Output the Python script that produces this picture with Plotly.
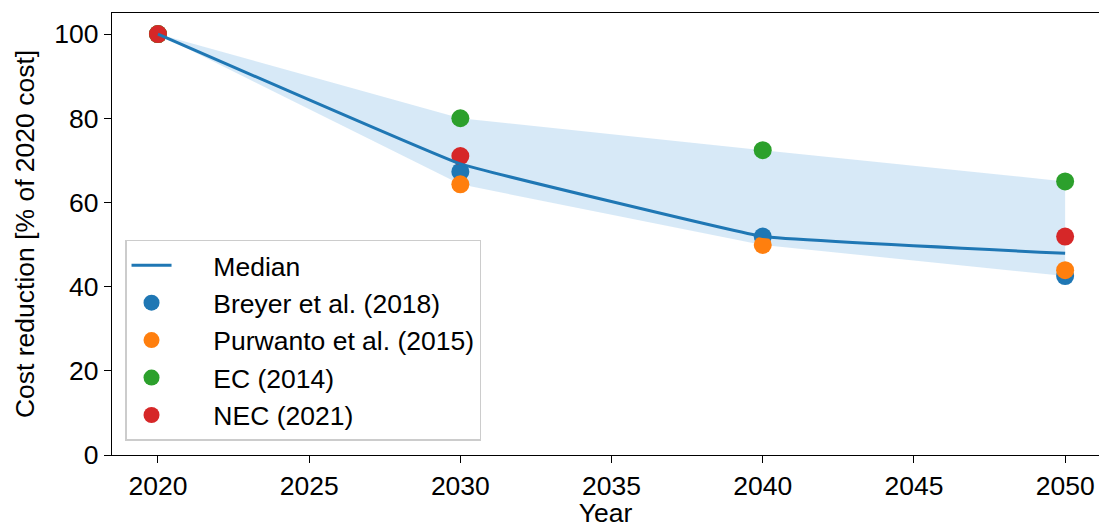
import plotly.graph_objects as go

years = [2020, 2030, 2040, 2050]
breyer = [100, 67.3, 51.9, 42.5]
purwanto = [100, 64.3, 49.9, 43.9]
ec = [100, 80.0, 72.4, 65.0]
nec = [100, 71.0, None, 51.9]
median = [100, 69.15, 51.9, 47.9]
band_low = [100, 64.3, 49.9, 42.5]
band_high = [100, 80.0, 72.4, 65.0]

series = [
    ("Breyer et al. (2018)", breyer, "#1f77b4"),
    ("Purwanto et al. (2015)", purwanto, "#ff7f0e"),
    ("EC (2014)", ec, "#2ca02c"),
    ("NEC (2021)", nec, "#d62728"),
]

FONT = "Liberation Sans, Arial, sans-serif"
FS = 26.5
PAD = "\u00a0" * 5

fig = go.Figure()
# band
fig.add_trace(go.Scatter(x=years, y=band_low, mode="lines", line=dict(width=0),
                         showlegend=False, hoverinfo="skip"))
fig.add_trace(go.Scatter(x=years, y=band_high, mode="lines", line=dict(width=0),
                         fill="tonexty", fillcolor="rgba(100,170,225,0.26)",
                         showlegend=False, hoverinfo="skip"))
for i, (name, vals, col) in enumerate(series):
    fig.add_trace(go.Scatter(x=years, y=vals, mode="markers", name=PAD + name,
                             marker=dict(color=col, size=18, line=dict(width=0)),
                             legendrank=2 + i, legendgroup=name))
fig.add_trace(go.Scatter(x=years, y=median, mode="lines", name=PAD + "Median",
                         line=dict(color="#1f77b4", width=3, shape="spline", smoothing=0.2),
                         legendrank=1, legendgroup="Median"))

fig.update_layout(
    width=1099, height=528,
    margin=dict(l=112, r=0, t=13, b=73),
    paper_bgcolor="white", plot_bgcolor="white",
    font=dict(family=FONT, size=FS, color="black"),
    legend=dict(x=0.0132, y=0.0317, xanchor="left", yanchor="bottom",
                bgcolor="rgba(255,255,255,0.8)", bordercolor="#cccccc", borderwidth=1.5,
                font=dict(size=FS, color="black"), tracegroupgap=0, itemwidth=40),
)
fig.update_xaxes(range=[2018.48, 2051.12], tickvals=[2020, 2025, 2030, 2035, 2040, 2045, 2050],
                 tickfont=dict(size=FS),
                 showgrid=False, zeroline=False, showline=True, linecolor="black", linewidth=1.3,
                 mirror=True, ticks="outside", ticklen=7, tickwidth=1.3, tickcolor="black",
                 title=dict(text="Year", standoff=5, font=dict(size=FS)))
fig.update_yaxes(range=[0, 105], tickvals=[0, 20, 40, 60, 80, 100],
                 tickfont=dict(size=FS),
                 showgrid=False, zeroline=False, showline=True, linecolor="black", linewidth=1.3,
                 ticks="outside", ticklen=7, tickwidth=1.3, tickcolor="black",
                 title=dict(text="Cost reduction [% of 2020 cost]", standoff=12, font=dict(size=FS)))

fig.write_html("out.html", config={"displayModeBar": False},
               post_script="document.body.style.margin='0';document.body.style.overflow='hidden';")
